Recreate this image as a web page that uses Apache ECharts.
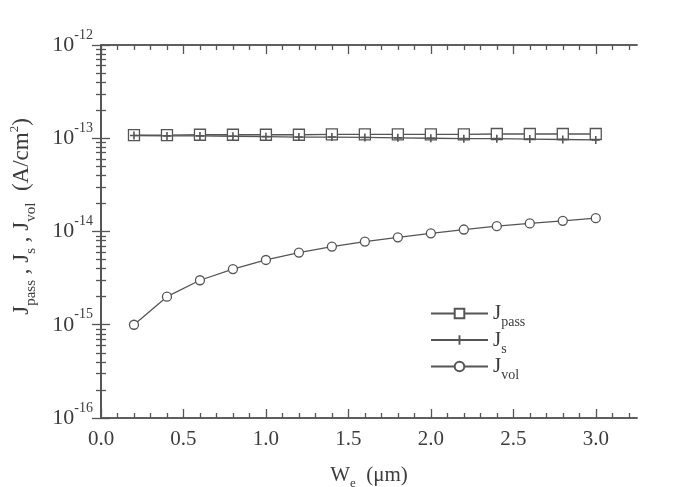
<!DOCTYPE html>
<html>
<head>
<meta charset="utf-8">
<script src="https://cdn.jsdelivr.net/npm/echarts@6/dist/echarts.min.js"></script>
<style>html,body{margin:0;padding:0;background:#fff}#c{width:674px;height:487px}</style>
</head>
<body>
<div id="c"></div>
<script>
// ---- data ----
const wValues = [0.2, 0.4, 0.6, 0.8, 1.0, 1.2, 1.4, 1.6, 1.8, 2.0, 2.2, 2.4, 2.6, 2.8, 3.0];
const jPass = [1.08e-13, 1.08e-13, 1.09e-13, 1.09e-13, 1.09e-13, 1.09e-13, 1.10e-13, 1.10e-13, 1.10e-13, 1.10e-13, 1.10e-13, 1.11e-13, 1.11e-13, 1.11e-13, 1.11e-13];
const jS = [1.07e-13, 1.06e-13, 1.06e-13, 1.05e-13, 1.04e-13, 1.03e-13, 1.03e-13, 1.02e-13, 1.01e-13, 1.00e-13, 0.99e-13, 0.99e-13, 0.98e-13, 0.97e-13, 0.96e-13];
const jVol = [1.0e-15, 2.0e-15, 3.0e-15, 3.95e-15, 4.95e-15, 5.95e-15, 6.9e-15, 7.8e-15, 8.65e-15, 9.55e-15, 1.05e-14, 1.14e-14, 1.22e-14, 1.30e-14, 1.39e-14];
const xMajorTicks = [0, 0.5, 1.0, 1.5, 2.0, 2.5, 3.0];
const xMinorTicks = [0.1, 0.2, 0.3, 0.4, 0.6, 0.7, 0.8, 0.9, 1.1, 1.2, 1.3, 1.4, 1.6, 1.7, 1.8, 1.9, 2.1, 2.2, 2.3, 2.4, 2.6, 2.7, 2.8, 2.9, 3.1, 3.2];
const yMajorTicks = [1e-16, 1e-15, 1e-14, 1e-13, 1e-12];
const yMinorMantissas = [2, 3, 4, 5, 6, 7, 8, 9];
const yDecades = [-16, -15, -14, -13];

const yMinorTicks = [];
yDecades.forEach(d => yMinorMantissas.forEach(m => yMinorTicks.push(m * Math.pow(10, d))));

const FONT = 'Liberation Serif';
const INK = '#3c3c3c';
const LINE = '#555';

const zip = (xs, ys) => xs.map((x, i) => [x, ys[i]]);

const axisLine = { show: true, lineStyle: { color: LINE, width: 1.5 } };

function xAxis(pos, major) {
  return {
    type: 'value', position: pos, min: 0, max: 3.25,
    axisLine: axisLine,
    splitLine: { show: false },
    axisTick: { show: true, inside: true, length: major ? 9 : 5, lineStyle: { color: LINE, width: 1.3 },
      customValues: major ? xMajorTicks : xMinorTicks },
    axisLabel: (pos === 'bottom' && major) ? {
      show: true, customValues: xMajorTicks, margin: 11,
      fontFamily: FONT, fontSize: 21, color: INK,
      formatter: v => v.toFixed(1)
    } : { show: false },
    name: (pos === 'bottom' && major) ? '{a|W}{b|e}{a|  (μm)}' : '',
    nameLocation: 'middle', nameGap: 42,
    nameTextStyle: {
      fontFamily: FONT, color: INK,
      rich: {
        a: { fontFamily: FONT, fontSize: 21, lineHeight: 30, verticalAlign: 'middle', color: INK },
        b: { fontFamily: FONT, fontSize: 13, lineHeight: 13, verticalAlign: 'bottom', color: INK }
      }
    }
  };
}

function yAxis(pos, major) {
  return {
    type: 'log', logBase: 10, position: pos, min: 1e-16, max: 1e-12,
    axisLine: axisLine,
    splitLine: { show: false },
    minorTick: { show: false },
    axisTick: { show: true, inside: true, length: major ? 9 : 5, lineStyle: { color: LINE, width: 1.3 },
      customValues: major ? yMajorTicks : yMinorTicks },
    axisLabel: (pos === 'left' && major) ? {
      show: true, customValues: yMajorTicks, margin: 8,
      formatter: v => '{a|10}{s|' + Math.round(Math.log10(v)) + '}',
      rich: {
        a: { fontFamily: FONT, fontSize: 22, lineHeight: 34, verticalAlign: 'middle', color: INK },
        s: { fontFamily: FONT, fontSize: 14, lineHeight: 14, verticalAlign: 'top', color: INK }
      }
    } : { show: false },
    name: (pos === 'left' && major) ? '{a|J}{b|pass}{a| , J}{b|s}{a| , J}{b|vol}{a|  (A/cm}{c|2}{a|)}' : '',
    nameLocation: 'middle', nameRotate: 90, nameGap: 62,
    nameTextStyle: {
      fontFamily: FONT, color: INK, padding: [0, 0, 0, 30],
      rich: {
        a: { fontFamily: FONT, fontSize: 23, lineHeight: 34, verticalAlign: 'middle', color: INK },
        b: { fontFamily: FONT, fontSize: 15, lineHeight: 15, verticalAlign: 'bottom', color: INK },
        c: { fontFamily: FONT, fontSize: 13, lineHeight: 13, verticalAlign: 'top', color: INK, padding: [3, 0, 0, 0] }
      }
    }
  };
}

const legendNames = { 'J_pass': '{j|J}{s|pass}', 'J_s': '{j|J}{s|s}', 'J_vol': '{j|J}{s|vol}' };

const plusPath = 'path://M4,0h2v4h4v2h-4v4h-2v-4h-4v-2h4z';

const option = {
  animation: false,
  backgroundColor: '#fff',
  grid: { left: 101, right: 37, top: 45, bottom: 69, containLabel: false, outerBoundsMode: 'none' },
  xAxis: [xAxis('bottom', true), xAxis('bottom', false), xAxis('top', true), xAxis('top', false)],
  yAxis: [yAxis('left', true), yAxis('left', false), yAxis('right', true), yAxis('right', false)],
  legend: {
    orient: 'vertical', left: 425, top: 298,
    itemWidth: 57, itemHeight: 12, itemGap: 0,
    data: ['J_pass', 'J_s', 'J_vol'],
    formatter: n => legendNames[n],
    textStyle: {
      rich: {
        j: { fontFamily: FONT, fontSize: 21, lineHeight: 32, verticalAlign: 'middle', color: INK },
        s: { fontFamily: FONT, fontSize: 14, lineHeight: 14, verticalAlign: 'bottom', color: INK }
      }
    }
  },
  series: [
    {
      name: 'J_pass', type: 'line', data: zip(wValues, jPass),
      symbol: 'rect', symbolSize: 11,
      lineStyle: { color: LINE, width: 1.3 },
      itemStyle: { color: '#fff', borderColor: LINE, borderWidth: 1.3 },
      z: 3
    },
    {
      name: 'J_s', type: 'line', data: zip(wValues, jS),
      symbol: plusPath, symbolSize: 8,
      lineStyle: { color: LINE, width: 1.3 },
      itemStyle: { color: LINE, borderWidth: 0 },
      z: 4
    },
    {
      name: 'J_vol', type: 'line', data: zip(wValues, jVol),
      symbol: 'circle', symbolSize: 9,
      lineStyle: { color: LINE, width: 1.3 },
      itemStyle: { color: '#fff', borderColor: LINE, borderWidth: 1.3 },
      z: 3
    }
  ]
};

const chart = echarts.init(document.getElementById('c'), null, { renderer: 'canvas' });
chart.setOption(option);
</script>
</body>
</html>
